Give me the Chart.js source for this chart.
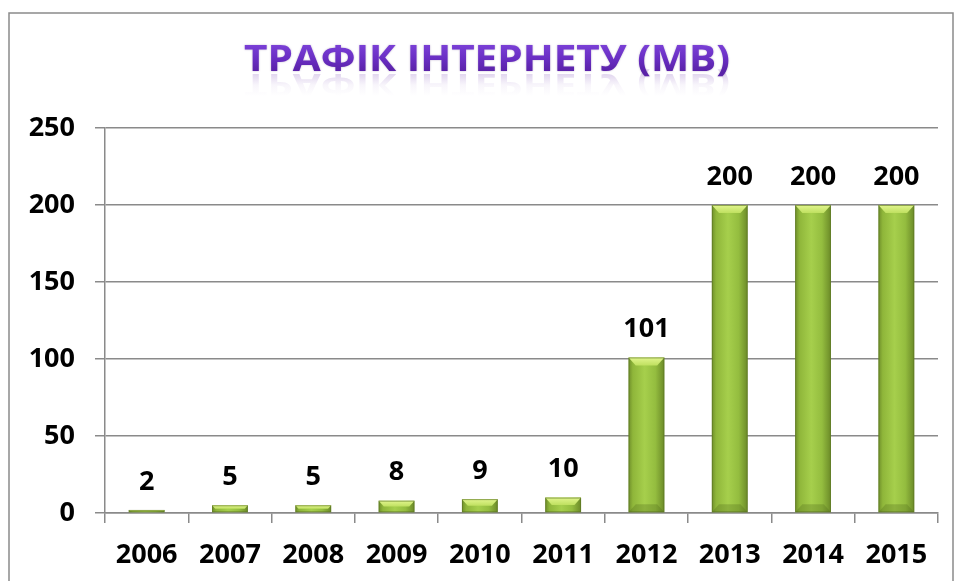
<!DOCTYPE html>
<html>
<head>
<meta charset="utf-8">
<script src="https://cdn.jsdelivr.net/npm/chart.js@4"></script>
<style>
html,body{margin:0;padding:0;background:#fff;}
#wrap{position:relative;width:955px;height:581px;}
</style>
</head>
<body>
<div id="wrap"><canvas id="c" width="955" height="581"></canvas></div>
<script>
const titleText = "ТРАФІК ІНТЕРНЕТУ (МВ)";
const years = ["2006","2007","2008","2009","2010","2011","2012","2013","2014","2015"];
const traffic = [2,5,5,8,9,10,101,200,200,200];
const yTicks = [0,50,100,150,200,250];

const FONT = "'Open Sans', 'DejaVu Sans', sans-serif";

function barGradient(ctx){
  const chart = ctx.chart;
  const area = chart.chartArea;
  if(!area) return '#9bc53e';
  const cx = chart.scales.x.getPixelForValue(ctx.dataIndex);
  const w = area.width / years.length * 0.43;
  const g = chart.ctx.createLinearGradient(cx - w/2, 0, cx + w/2, 0);
  g.addColorStop(0, '#6f8f2a');
  g.addColorStop(0.12, '#8fb63a');
  g.addColorStop(0.45, '#a6cf4c');
  g.addColorStop(0.75, '#94bd3f');
  g.addColorStop(1, '#6b8a28');
  return g;
}

const framePlugin = {
  id: 'frame',
  beforeDraw(chart){
    const c = chart.ctx;
    c.save();
    c.fillStyle = '#fff';
    c.fillRect(0,0,chart.width,chart.height);
    c.strokeStyle = '#8a8a8a';
    c.lineWidth = 1.5;
    c.strokeRect(9, 13, 944, 620);
    c.restore();
  }
};

const titlePlugin = {
  id: 'fancyTitle',
  afterDraw(chart){
    const c = chart.ctx;
    c.save();
    c.font = "bold 35px " + FONT;
    const tw = c.measureText(titleText).width;
    const target = 486;
    const sx = target / tw;
    const cx = 487, base = 71;
    c.save();
    c.translate(cx, base + 3);
    c.scale(sx, -0.85);
    c.textAlign = 'center';
    c.textBaseline = 'alphabetic';
    const rg = c.createLinearGradient(0, 0, 0, -26);
    rg.addColorStop(0, 'rgba(120,70,180,0.22)');
    rg.addColorStop(0.5, 'rgba(120,70,180,0.05)');
    rg.addColorStop(1, 'rgba(120,70,180,0)');
    c.fillStyle = rg;
    c.fillText(titleText, 0, 0);
    c.restore();
    c.save();
    c.translate(cx, base);
    c.scale(sx, 1);
    c.textAlign = 'center';
    c.textBaseline = 'alphabetic';
    c.shadowColor = 'rgba(60,20,110,0.35)';
    c.shadowBlur = 2;
    const g = c.createLinearGradient(0, -26, 0, 0);
    g.addColorStop(0, '#7a3fd6');
    g.addColorStop(0.5, '#6a2fc4');
    g.addColorStop(1, '#5a22a8');
    c.fillStyle = g;
    c.fillText(titleText, 0, 0);
    c.restore();
    c.restore();
  }
};

const barDecor = {
  id: 'barDecor',
  afterDatasetsDraw(chart){
    const c = chart.ctx;
    const meta = chart.getDatasetMeta(0);
    c.save();
    meta.data.forEach((bar, i) => {
      const w = bar.width;
      const l = bar.x - w/2, r = bar.x + w/2;
      const top = bar.y, bottom = bar.base;
      const h = bottom - top;
      const bev = Math.min(8, h/2);
      c.beginPath();
      c.moveTo(l, top);
      c.lineTo(r, top);
      c.lineTo(r - bev*0.9, top + bev);
      c.lineTo(l + bev*0.9, top + bev);
      c.closePath();
      const tg = c.createLinearGradient(0, top, 0, top + bev);
      tg.addColorStop(0, '#e2f58e');
      tg.addColorStop(1, '#bfe060');
      c.fillStyle = tg;
      c.fill();
      if (h > 16){
        c.beginPath();
        c.moveTo(l, bottom);
        c.lineTo(r, bottom);
        c.lineTo(r - bev*0.9, bottom - bev);
        c.lineTo(l + bev*0.9, bottom - bev);
        c.closePath();
        c.fillStyle = 'rgba(80,105,25,0.3)';
        c.fill();
      }
      c.strokeStyle = 'rgba(90,115,35,0.6)';
      c.lineWidth = 1;
      c.strokeRect(l + 0.5, top + 0.5, w - 1, h - 1);
      c.fillStyle = '#000';
      c.font = "bold 27px " + FONT;
      c.textAlign = 'center';
      c.textBaseline = 'middle';
      c.fillText(String(traffic[i]), bar.x, top - 28);
    });
    c.restore();
  }
};

new Chart(document.getElementById('c'), {
  type: 'bar',
  data: {
    labels: years,
    datasets: [{
      data: traffic,
      backgroundColor: barGradient,
      borderWidth: 0,
      barPercentage: 0.43,
      categoryPercentage: 1.0
    }]
  },
  options: {
    responsive: false,
    animation: false,
    devicePixelRatio: 1,
    layout: { padding: { left: 0, top: 128, right: 17, bottom: 0 } },
    plugins: { legend: { display: false }, tooltip: { enabled: false }, title: { display: false } },
    scales: {
      x: {
        grid: { display: true, drawOnChartArea: false, drawTicks: true, tickLength: 10, offset: true, color: '#8a8a8a', lineWidth: 1.5 },
        border: { display: true, color: '#8a8a8a', width: 1.5 },
        ticks: { color: '#000', font: { family: FONT, weight: 'bold', size: 27 }, padding: 16, maxRotation: 0, autoSkip: false },
        afterFit(scale){ scale.height = 68; }
      },
      y: {
        min: 0, max: 250,
        afterBuildTicks(scale){ scale.ticks = yTicks.map(v => ({ value: v })); },
        grid: { color: '#8a8a8a', lineWidth: 1.5, tickLength: 10, drawTicks: true },
        border: { display: true, color: '#8a8a8a', width: 1.5 },
        ticks: { color: '#000', font: { family: FONT, weight: 'bold', size: 27 }, padding: 20 },
        afterFit(scale){ scale.width = 105; }
      }
    }
  },
  plugins: [framePlugin, titlePlugin, barDecor]
});
</script>
</body>
</html>
